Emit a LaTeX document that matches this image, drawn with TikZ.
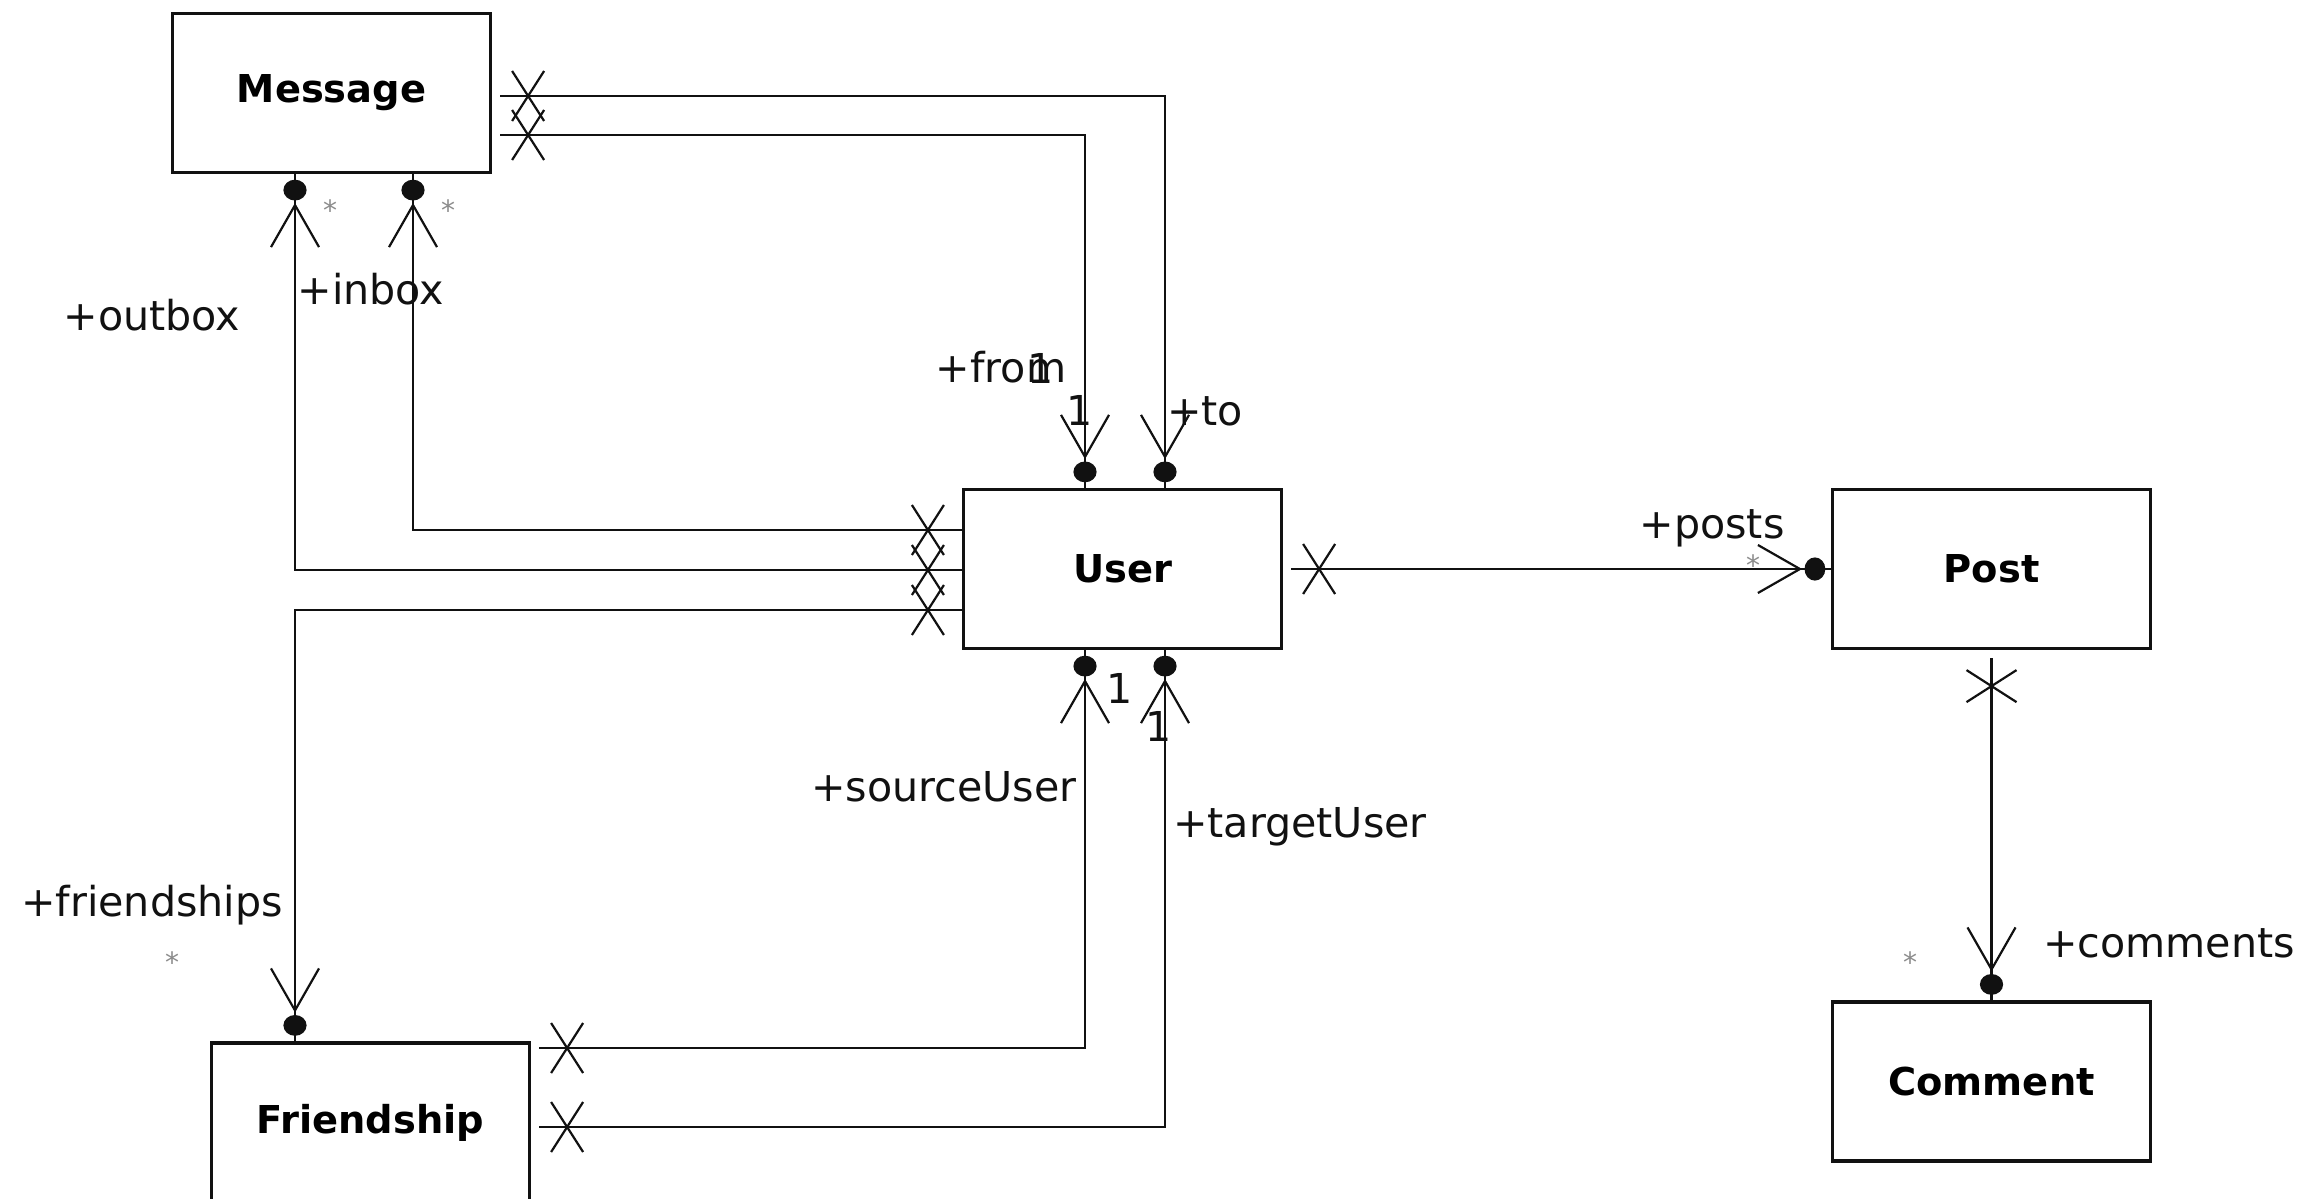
\documentclass[tikz,border=0pt]{standalone}
\usepackage{fontspec}
\setmainfont{DejaVu Sans}
\usepackage{xcolor}
\usepackage{tikz}
\usetikzlibrary{calc}
\definecolor{DiagInk}{HTML}{111111}
\definecolor{DiagStar}{HTML}{8C8C8C}

\tikzset{
  classbox/.style={draw=DiagInk,line width=0.8pt,fill=white,inner sep=0pt,
        minimum width=79.5pt,minimum height=39.75pt,
        font=\fontsize{9.6}{11}\selectfont\bfseries},
  conn/.style={draw=DiagInk,line width=0.55pt},
  role/.style={font=\fontsize{10.3}{12}\selectfont,inner sep=0pt,text=DiagInk},
  multi/.style={font=\fontsize{7}{8}\selectfont,inner sep=0pt,text=DiagStar},
  manyend/.pic={
    \fill[DiagInk] (0,0) ellipse [x radius=2.6pt,y radius=2.9pt];
    \draw[conn] (-57,-24) -- (-15,0) -- (-57,24);
  },
  crossmark/.pic={
    \draw[conn] (-16,-25) -- (16,25) (-16,25) -- (16,-25);
  }
}

\begin{document}
\begin{tikzpicture}[x=0.25pt,y=-0.25pt]
  \useasboundingbox (0,0) rectangle (2320,1198);
  \clip (0,0) rectangle (2320,1198);
  \fill[white] (0,0) rectangle (2320,1198);

  % Classes.
  \node[classbox] (msg) at (331.5,93) {Message};
  \node[classbox] (user) at (1122.5,569) {User};
  \node[classbox] (post) at (1991.5,569) {Post};
  \node[classbox] (comment) at (1991.5,1081.5) {Comment};
  \node[classbox] (friend) at (370.5,1122.5) {Friendship};

  % Bends of the associations.
  \coordinate (toBend) at (1165,96);
  \coordinate (fromBend) at (1085,135);
  \coordinate (inBend) at (413,530);
  \coordinate (outBend) at (295,570);
  \coordinate (frBend) at (295,610);
  \coordinate (srcBend) at (1085,1048);
  \coordinate (tgtBend) at (1165,1127);

  % Associations.
  \draw[conn,shorten <=2pt] (msg.east |- toBend) -- (toBend) -- (user.north -| toBend);
  \draw[conn,shorten <=2pt] (msg.east |- fromBend) -- (fromBend) -- (user.north -| fromBend);
  \draw[conn] (user.west |- inBend) -- (inBend) -- (msg.south -| inBend);
  \draw[conn] (user.west |- outBend) -- (outBend) -- (msg.south -| outBend);
  \draw[conn] (user.west |- frBend) -- (frBend) -- (friend.north -| frBend);
  \draw[conn,shorten <=2pt] (friend.east |- srcBend) -- (srcBend) -- (user.south -| srcBend);
  \draw[conn,shorten <=2pt] (friend.east |- tgtBend) -- (tgtBend) -- (user.south -| tgtBend);
  \draw[conn,shorten <=2pt] (user.east) -- (post.west);
  \draw[conn,shorten <=2pt] (post.south) -- (comment.north);

  % Many ends.
  \pic[rotate=-90] at ($(user.north -| toBend)+(0,-16)$) {manyend};
  \pic[rotate=-90] at ($(user.north -| fromBend)+(0,-16)$) {manyend};
  \pic[rotate=90] at ($(msg.south -| inBend)+(0,16)$) {manyend};
  \pic[rotate=90] at ($(msg.south -| outBend)+(0,16)$) {manyend};
  \pic[rotate=-90] at ($(friend.north -| frBend)+(0,-16)$) {manyend};
  \pic[rotate=90] at ($(user.south -| srcBend)+(0,16)$) {manyend};
  \pic[rotate=90] at ($(user.south -| tgtBend)+(0,16)$) {manyend};
  \pic at ($(post.west)+(-16,0)$) {manyend};
  \pic[rotate=-90] at ($(comment.north)+(0,-16)$) {manyend};

  % Crossed ends.
  \pic at ($(msg.east |- toBend)+(36,0)$) {crossmark};
  \pic at ($(msg.east |- fromBend)+(36,0)$) {crossmark};
  \foreach \bend in {inBend,outBend,frBend}
    \pic at ($(user.west |- \bend)+(-34,0)$) {crossmark};
  \pic at ($(user.east)+(36,0)$) {crossmark};
  \pic[rotate=90] at ($(post.south)+(0,36)$) {crossmark};
  \pic at ($(friend.east |- srcBend)+(36,0)$) {crossmark};
  \pic at ($(friend.east |- tgtBend)+(36,0)$) {crossmark};

  % Roles and multiplicities.
  \node[role] (outL) at (152,315) {+outbox};
  \node[role] (inL) at (371,289) {+inbox};
  \node[multi] (outM) at (330,210) {*};
  \node[multi] (inM) at (448,210) {*};
  \node[role] (fromL) at (1001,367) {+from};
  \node[role] (fromOne) at (1041,368) {1};
  \node[role] (toOne) at (1080,410) {1};
  \node[role] (toL) at (1205,411) {+to};
  \node[role] (postsL) at (1712,528) {+posts};
  \node[multi] (postsM) at (1753,565) {*};
  \node[role] (srcL) at (944,787) {+sourceUser};
  \node[role] (tgtL) at (1300,827) {+targetUser};
  \node[role] (srcOne) at (1120,688) {1};
  \node[role] (tgtOne) at (1159,726) {1};
  \node[role] (frL) at (152,905) {+friendships};
  \node[multi] (frM) at (172,962) {*};
  \node[role] (comL) at (2169,943) {+comments};
  \node[multi] (comM) at (1910,962) {*};
\end{tikzpicture}
\end{document}
